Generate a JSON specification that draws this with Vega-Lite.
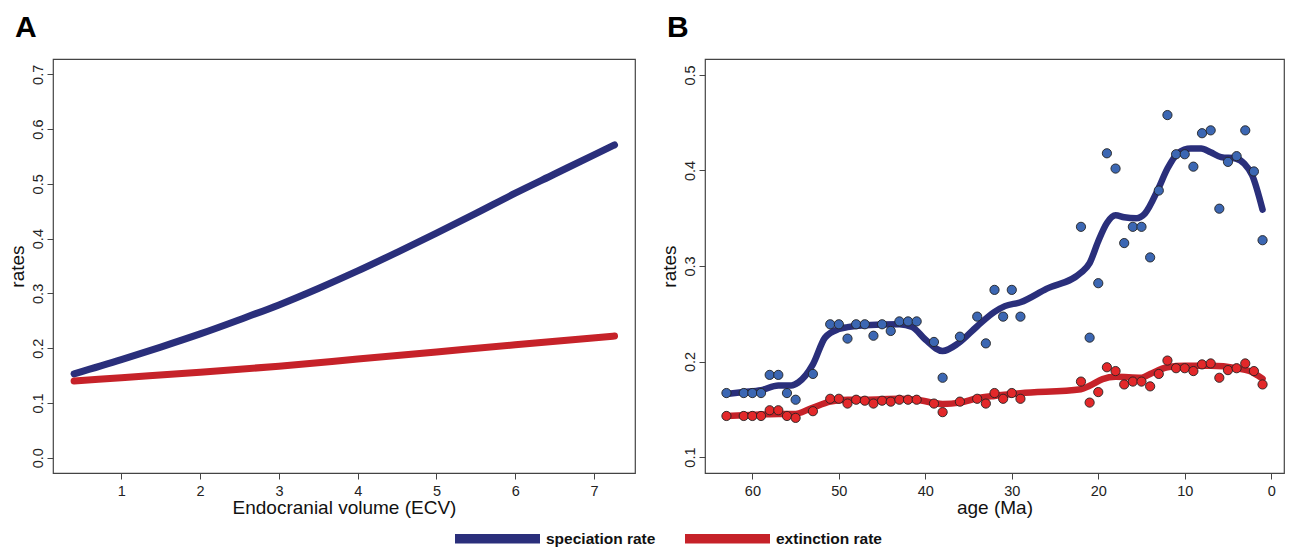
{
  "$schema": "https://vega.github.io/schema/vega-lite/v6.json",
  "background": "white",
  "padding": {"left": 7, "top": 12, "right": 0, "bottom": 0},
  "datasets": {
    "lineA": [
      {"ecv": 0.4, "rate": 0.153, "type": "speciation rate"},
      {"ecv": 1.0, "rate": 0.179, "type": "speciation rate"},
      {"ecv": 1.5, "rate": 0.202, "type": "speciation rate"},
      {"ecv": 2.0, "rate": 0.226, "type": "speciation rate"},
      {"ecv": 2.5, "rate": 0.252, "type": "speciation rate"},
      {"ecv": 3.0, "rate": 0.279, "type": "speciation rate"},
      {"ecv": 3.5, "rate": 0.309, "type": "speciation rate"},
      {"ecv": 4.0, "rate": 0.341, "type": "speciation rate"},
      {"ecv": 4.5, "rate": 0.375, "type": "speciation rate"},
      {"ecv": 5.0, "rate": 0.410, "type": "speciation rate"},
      {"ecv": 5.5, "rate": 0.446, "type": "speciation rate"},
      {"ecv": 6.0, "rate": 0.483, "type": "speciation rate"},
      {"ecv": 6.5, "rate": 0.518, "type": "speciation rate"},
      {"ecv": 7.0, "rate": 0.553, "type": "speciation rate"},
      {"ecv": 7.26, "rate": 0.571, "type": "speciation rate"},
      {"ecv": 0.4, "rate": 0.140, "type": "extinction rate"},
      {"ecv": 1.0, "rate": 0.146, "type": "extinction rate"},
      {"ecv": 2.0, "rate": 0.156, "type": "extinction rate"},
      {"ecv": 3.0, "rate": 0.167, "type": "extinction rate"},
      {"ecv": 4.0, "rate": 0.180, "type": "extinction rate"},
      {"ecv": 5.0, "rate": 0.193, "type": "extinction rate"},
      {"ecv": 6.0, "rate": 0.206, "type": "extinction rate"},
      {"ecv": 7.26, "rate": 0.222, "type": "extinction rate"}
    ],
    "lineB": [
      {"age": 63, "rate": 0.166, "type": "speciation rate"},
      {"age": 61, "rate": 0.168, "type": "speciation rate"},
      {"age": 59, "rate": 0.170, "type": "speciation rate"},
      {"age": 57, "rate": 0.175, "type": "speciation rate"},
      {"age": 55.5, "rate": 0.175, "type": "speciation rate"},
      {"age": 54.7, "rate": 0.178, "type": "speciation rate"},
      {"age": 53, "rate": 0.197, "type": "speciation rate"},
      {"age": 51.6, "rate": 0.225, "type": "speciation rate"},
      {"age": 50, "rate": 0.234, "type": "speciation rate"},
      {"age": 49, "rate": 0.236, "type": "speciation rate"},
      {"age": 47, "rate": 0.238, "type": "speciation rate"},
      {"age": 43, "rate": 0.239, "type": "speciation rate"},
      {"age": 41.5, "rate": 0.236, "type": "speciation rate"},
      {"age": 40, "rate": 0.223, "type": "speciation rate"},
      {"age": 38, "rate": 0.211, "type": "speciation rate"},
      {"age": 36.2, "rate": 0.219, "type": "speciation rate"},
      {"age": 34, "rate": 0.237, "type": "speciation rate"},
      {"age": 32, "rate": 0.252, "type": "speciation rate"},
      {"age": 30.8, "rate": 0.258, "type": "speciation rate"},
      {"age": 29, "rate": 0.262, "type": "speciation rate"},
      {"age": 26, "rate": 0.276, "type": "speciation rate"},
      {"age": 22, "rate": 0.293, "type": "speciation rate"},
      {"age": 21, "rate": 0.303, "type": "speciation rate"},
      {"age": 20, "rate": 0.326, "type": "speciation rate"},
      {"age": 19, "rate": 0.345, "type": "speciation rate"},
      {"age": 18, "rate": 0.353, "type": "speciation rate"},
      {"age": 17, "rate": 0.351, "type": "speciation rate"},
      {"age": 15.6, "rate": 0.350, "type": "speciation rate"},
      {"age": 14.6, "rate": 0.355, "type": "speciation rate"},
      {"age": 13.1, "rate": 0.380, "type": "speciation rate"},
      {"age": 12, "rate": 0.402, "type": "speciation rate"},
      {"age": 10.8, "rate": 0.418, "type": "speciation rate"},
      {"age": 9.3, "rate": 0.423, "type": "speciation rate"},
      {"age": 8.1, "rate": 0.423, "type": "speciation rate"},
      {"age": 7, "rate": 0.419, "type": "speciation rate"},
      {"age": 5.8, "rate": 0.414, "type": "speciation rate"},
      {"age": 4.1, "rate": 0.4125, "type": "speciation rate"},
      {"age": 3.1, "rate": 0.407, "type": "speciation rate"},
      {"age": 2.2, "rate": 0.395, "type": "speciation rate"},
      {"age": 1, "rate": 0.359, "type": "speciation rate"},
      {"age": 63, "rate": 0.143, "type": "extinction rate"},
      {"age": 59, "rate": 0.1445, "type": "extinction rate"},
      {"age": 57, "rate": 0.145, "type": "extinction rate"},
      {"age": 55.2, "rate": 0.145, "type": "extinction rate"},
      {"age": 53.2, "rate": 0.151, "type": "extinction rate"},
      {"age": 51, "rate": 0.158, "type": "extinction rate"},
      {"age": 49, "rate": 0.160, "type": "extinction rate"},
      {"age": 47, "rate": 0.160, "type": "extinction rate"},
      {"age": 43, "rate": 0.161, "type": "extinction rate"},
      {"age": 41, "rate": 0.160, "type": "extinction rate"},
      {"age": 38, "rate": 0.1556, "type": "extinction rate"},
      {"age": 36, "rate": 0.157, "type": "extinction rate"},
      {"age": 34, "rate": 0.1615, "type": "extinction rate"},
      {"age": 32, "rate": 0.164, "type": "extinction rate"},
      {"age": 29, "rate": 0.1667, "type": "extinction rate"},
      {"age": 22, "rate": 0.171, "type": "extinction rate"},
      {"age": 21, "rate": 0.1747, "type": "extinction rate"},
      {"age": 19.5, "rate": 0.1816, "type": "extinction rate"},
      {"age": 18, "rate": 0.184, "type": "extinction rate"},
      {"age": 15, "rate": 0.183, "type": "extinction rate"},
      {"age": 14, "rate": 0.187, "type": "extinction rate"},
      {"age": 12, "rate": 0.194, "type": "extinction rate"},
      {"age": 10, "rate": 0.1955, "type": "extinction rate"},
      {"age": 7, "rate": 0.1955, "type": "extinction rate"},
      {"age": 4, "rate": 0.193, "type": "extinction rate"},
      {"age": 2.5, "rate": 0.190, "type": "extinction rate"},
      {"age": 1, "rate": 0.182, "type": "extinction rate"}
    ],
    "pointsB": [
      {"age": 63, "rate": 0.167, "type": "speciation rate"},
      {"age": 61, "rate": 0.167, "type": "speciation rate"},
      {"age": 60, "rate": 0.167, "type": "speciation rate"},
      {"age": 59, "rate": 0.167, "type": "speciation rate"},
      {"age": 58, "rate": 0.186, "type": "speciation rate"},
      {"age": 57, "rate": 0.186, "type": "speciation rate"},
      {"age": 56, "rate": 0.167, "type": "speciation rate"},
      {"age": 55, "rate": 0.160, "type": "speciation rate"},
      {"age": 53, "rate": 0.187, "type": "speciation rate"},
      {"age": 51, "rate": 0.239, "type": "speciation rate"},
      {"age": 50, "rate": 0.239, "type": "speciation rate"},
      {"age": 49, "rate": 0.224, "type": "speciation rate"},
      {"age": 48, "rate": 0.239, "type": "speciation rate"},
      {"age": 47, "rate": 0.239, "type": "speciation rate"},
      {"age": 46, "rate": 0.227, "type": "speciation rate"},
      {"age": 45, "rate": 0.239, "type": "speciation rate"},
      {"age": 44, "rate": 0.232, "type": "speciation rate"},
      {"age": 43, "rate": 0.242, "type": "speciation rate"},
      {"age": 42, "rate": 0.242, "type": "speciation rate"},
      {"age": 41, "rate": 0.242, "type": "speciation rate"},
      {"age": 39, "rate": 0.2205, "type": "speciation rate"},
      {"age": 38, "rate": 0.183, "type": "speciation rate"},
      {"age": 36, "rate": 0.226, "type": "speciation rate"},
      {"age": 34, "rate": 0.247, "type": "speciation rate"},
      {"age": 33, "rate": 0.219, "type": "speciation rate"},
      {"age": 32, "rate": 0.275, "type": "speciation rate"},
      {"age": 31, "rate": 0.247, "type": "speciation rate"},
      {"age": 30, "rate": 0.275, "type": "speciation rate"},
      {"age": 29, "rate": 0.247, "type": "speciation rate"},
      {"age": 22, "rate": 0.341, "type": "speciation rate"},
      {"age": 21, "rate": 0.225, "type": "speciation rate"},
      {"age": 20, "rate": 0.282, "type": "speciation rate"},
      {"age": 19, "rate": 0.418, "type": "speciation rate"},
      {"age": 18, "rate": 0.402, "type": "speciation rate"},
      {"age": 17, "rate": 0.324, "type": "speciation rate"},
      {"age": 16, "rate": 0.341, "type": "speciation rate"},
      {"age": 15, "rate": 0.341, "type": "speciation rate"},
      {"age": 14, "rate": 0.309, "type": "speciation rate"},
      {"age": 13, "rate": 0.379, "type": "speciation rate"},
      {"age": 12, "rate": 0.458, "type": "speciation rate"},
      {"age": 11, "rate": 0.417, "type": "speciation rate"},
      {"age": 10, "rate": 0.417, "type": "speciation rate"},
      {"age": 9, "rate": 0.404, "type": "speciation rate"},
      {"age": 8, "rate": 0.439, "type": "speciation rate"},
      {"age": 7, "rate": 0.442, "type": "speciation rate"},
      {"age": 6, "rate": 0.360, "type": "speciation rate"},
      {"age": 5, "rate": 0.409, "type": "speciation rate"},
      {"age": 4, "rate": 0.415, "type": "speciation rate"},
      {"age": 3, "rate": 0.442, "type": "speciation rate"},
      {"age": 2, "rate": 0.399, "type": "speciation rate"},
      {"age": 1, "rate": 0.327, "type": "speciation rate"},
      {"age": 63, "rate": 0.143, "type": "extinction rate"},
      {"age": 61, "rate": 0.143, "type": "extinction rate"},
      {"age": 60, "rate": 0.143, "type": "extinction rate"},
      {"age": 59, "rate": 0.143, "type": "extinction rate"},
      {"age": 58, "rate": 0.149, "type": "extinction rate"},
      {"age": 57, "rate": 0.149, "type": "extinction rate"},
      {"age": 56, "rate": 0.143, "type": "extinction rate"},
      {"age": 55, "rate": 0.141, "type": "extinction rate"},
      {"age": 53, "rate": 0.148, "type": "extinction rate"},
      {"age": 51, "rate": 0.161, "type": "extinction rate"},
      {"age": 50, "rate": 0.161, "type": "extinction rate"},
      {"age": 49, "rate": 0.156, "type": "extinction rate"},
      {"age": 48, "rate": 0.160, "type": "extinction rate"},
      {"age": 47, "rate": 0.159, "type": "extinction rate"},
      {"age": 46, "rate": 0.156, "type": "extinction rate"},
      {"age": 45, "rate": 0.159, "type": "extinction rate"},
      {"age": 44, "rate": 0.158, "type": "extinction rate"},
      {"age": 43, "rate": 0.160, "type": "extinction rate"},
      {"age": 42, "rate": 0.160, "type": "extinction rate"},
      {"age": 41, "rate": 0.160, "type": "extinction rate"},
      {"age": 39, "rate": 0.156, "type": "extinction rate"},
      {"age": 38, "rate": 0.147, "type": "extinction rate"},
      {"age": 36, "rate": 0.158, "type": "extinction rate"},
      {"age": 34, "rate": 0.161, "type": "extinction rate"},
      {"age": 33, "rate": 0.156, "type": "extinction rate"},
      {"age": 32, "rate": 0.167, "type": "extinction rate"},
      {"age": 31, "rate": 0.161, "type": "extinction rate"},
      {"age": 30, "rate": 0.167, "type": "extinction rate"},
      {"age": 29, "rate": 0.161, "type": "extinction rate"},
      {"age": 22, "rate": 0.179, "type": "extinction rate"},
      {"age": 21, "rate": 0.157, "type": "extinction rate"},
      {"age": 20, "rate": 0.168, "type": "extinction rate"},
      {"age": 19, "rate": 0.194, "type": "extinction rate"},
      {"age": 18, "rate": 0.190, "type": "extinction rate"},
      {"age": 17, "rate": 0.176, "type": "extinction rate"},
      {"age": 16, "rate": 0.179, "type": "extinction rate"},
      {"age": 15, "rate": 0.179, "type": "extinction rate"},
      {"age": 14, "rate": 0.174, "type": "extinction rate"},
      {"age": 13, "rate": 0.187, "type": "extinction rate"},
      {"age": 12, "rate": 0.201, "type": "extinction rate"},
      {"age": 11, "rate": 0.193, "type": "extinction rate"},
      {"age": 10, "rate": 0.193, "type": "extinction rate"},
      {"age": 9, "rate": 0.190, "type": "extinction rate"},
      {"age": 8, "rate": 0.197, "type": "extinction rate"},
      {"age": 7, "rate": 0.198, "type": "extinction rate"},
      {"age": 6, "rate": 0.183, "type": "extinction rate"},
      {"age": 5, "rate": 0.191, "type": "extinction rate"},
      {"age": 4, "rate": 0.193, "type": "extinction rate"},
      {"age": 3, "rate": 0.198, "type": "extinction rate"},
      {"age": 2, "rate": 0.190, "type": "extinction rate"},
      {"age": 1, "rate": 0.176, "type": "extinction rate"}
    ]
  },
  "config": {
    "font": "Liberation Sans",
    "view": {"stroke": "#444", "strokeWidth": 1.2},
    "axis": {
      "domain": false, "grid": false, "ticks": true, "tickColor": "#444", "tickSize": 6, "tickWidth": 1,
      "labelFont": "Liberation Sans", "labelFontSize": 14.5, "labelColor": "#222",
      "titleFont": "Liberation Sans", "titleFontSize": 19, "titleFontWeight": "normal", "titleColor": "#111"
    },
    "axisX": {"labelPadding": 5, "titlePadding": 1},
    "axisY": {"labelAngle": -90, "labelAlign": "center", "labelBaseline": "bottom", "labelPadding": 2, "titlePadding": 3},
    "title": {"font": "Liberation Sans", "fontSize": 30, "fontWeight": "bold", "color": "#000", "anchor": "start", "frame": "bounds", "offset": 16}
  },
  "spacing": 23,
  "resolve": {"scale": {"color": "shared"}},
  "hconcat": [
    {
      "width": 582, "height": 414,
      "title": {"text": "A", "dx": 7},
      "data": {"name": "lineA"},
      "mark": {"type": "line", "strokeWidth": 7, "strokeCap": "round", "interpolate": "monotone"},
      "encoding": {
        "x": {"field": "ecv", "type": "quantitative", "scale": {"domain": [0.132, 7.52], "nice": false, "zero": false},
              "axis": {"title": "Endocranial volume (ECV)", "values": [1, 2, 3, 4, 5, 6, 7]}},
        "y": {"field": "rate", "type": "quantitative", "scale": {"domain": [-0.028, 0.728], "nice": false, "zero": false},
              "axis": {"title": "rates", "values": [0, 0.1, 0.2, 0.3, 0.4, 0.5, 0.6, 0.7], "format": ".1f"}},
        "color": {"field": "type", "type": "nominal",
                  "scale": {"domain": ["speciation rate", "extinction rate"], "range": ["#2a2f7b", "#c62229"]},
                  "legend": {
                    "orient": "none", "legendX": 397, "legendY": 432, "direction": "horizontal",
                    "symbolType": "stroke", "symbolSize": 7225, "symbolStrokeWidth": 9.5,
                    "labelFont": "Liberation Sans", "labelFontSize": 15.5, "labelFontWeight": "bold", "labelColor": "#111",
                    "columnPadding": 10, "labelOffset": 1, "title": null
                  }}
      }
    },
    {
      "width": 579, "height": 414,
      "title": {"text": "B", "dx": 7},
      "layer": [
        {
          "data": {"name": "lineB"},
          "mark": {"type": "line", "strokeWidth": 6.5, "strokeCap": "round", "interpolate": "monotone"},
          "encoding": {
            "x": {"field": "age", "type": "quantitative", "scale": {"domain": [-1.48, 65.48], "reverse": true, "nice": false, "zero": false},
                  "axis": {"title": "age (Ma)", "values": [0, 10, 20, 30, 40, 50, 60]}},
            "y": {"field": "rate", "type": "quantitative", "scale": {"domain": [0.0833, 0.5167], "nice": false, "zero": false},
                  "axis": {"title": "rates", "values": [0.1, 0.2, 0.3, 0.4, 0.5], "format": ".1f"}},
            "color": {"field": "type", "type": "nominal",
                      "scale": {"domain": ["speciation rate", "extinction rate"], "range": ["#2a2f7b", "#c62229"]}}
          }
        },
        {
          "data": {"name": "pointsB"},
          "mark": {"type": "circle", "size": 85, "stroke": "#222", "strokeWidth": 0.9, "opacity": 1},
          "encoding": {
            "x": {"field": "age", "type": "quantitative"},
            "y": {"field": "rate", "type": "quantitative"},
            "fill": {"field": "type", "type": "nominal", "legend": null,
                     "scale": {"domain": ["speciation rate", "extinction rate"], "range": ["#3c67b3", "#e3282a"]}}
          }
        }
      ]
    }
  ]
}
